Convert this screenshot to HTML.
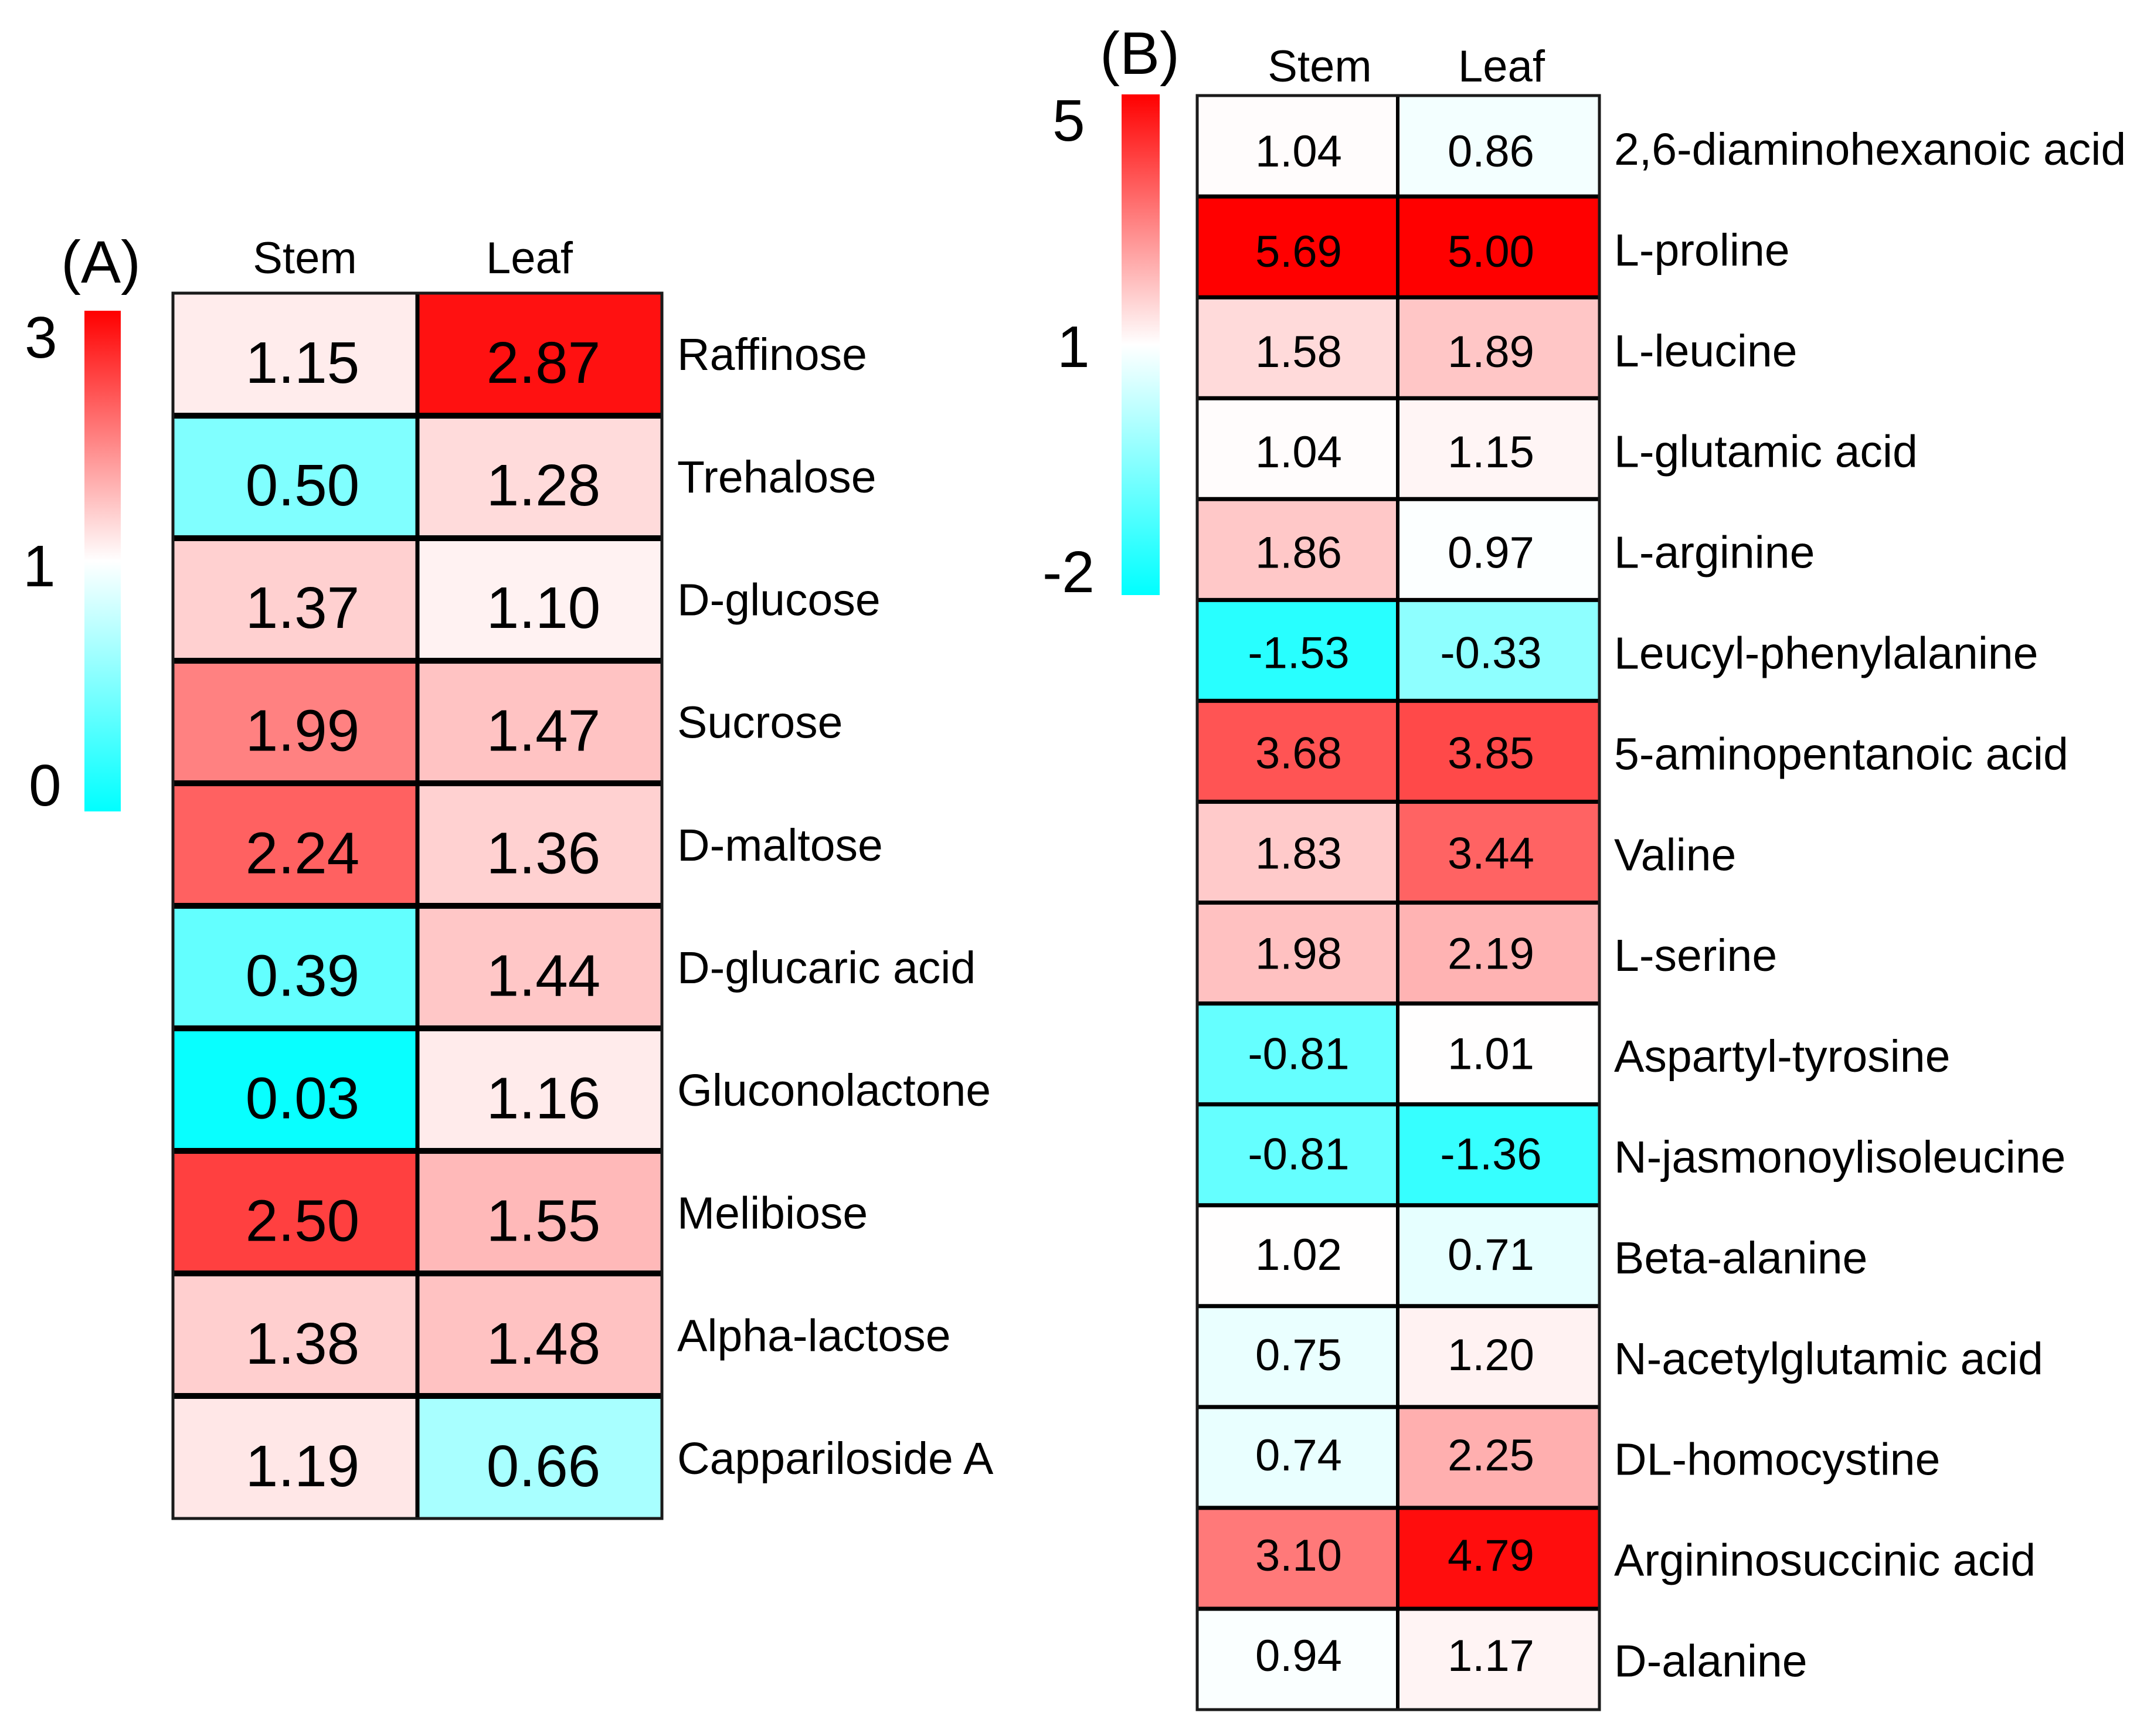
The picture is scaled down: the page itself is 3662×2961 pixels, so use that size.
<!DOCTYPE html>
<html lang="en">
<head>
<meta charset="utf-8">
<title>Metabolite fold-change heatmaps</title>
<style>
html,body{margin:0;padding:0;background:#fff;}
svg{display:block;}
text{font-family:"Liberation Sans",Arial,sans-serif;fill:#000;}
</style>
</head>
<body>
<svg id="chart" xmlns="http://www.w3.org/2000/svg" width="3662" height="2961" viewBox="0 0 3662 2961">
  <defs>
    <linearGradient id="cbar" x1="0" y1="0" x2="0" y2="1">
      <stop offset="0" stop-color="#ff0000"/>
      <stop offset="0.5" stop-color="#ffffff"/>
      <stop offset="1" stop-color="#00ffff"/>
    </linearGradient>
  </defs>
  <rect width="3662" height="2961" fill="#fff"/>

  <g id="panelA">
    <text x="104" y="482" font-size="102">(A)</text>
    <rect x="144" y="530" width="62" height="854" fill="url(#cbar)"/>
    <text x="42" y="610" font-size="100">3</text>
    <text x="39" y="1000" font-size="100">1</text>
    <text x="49" y="1374" font-size="100">0</text>
    <text x="520" y="466" font-size="76" text-anchor="middle">Stem</text>
    <text x="903" y="466" font-size="76" text-anchor="middle">Leaf</text>
  </g>

  <g id="panelB">
    <text x="1876" y="126" font-size="102">(B)</text>
    <rect x="1913" y="161" width="65" height="854" fill="url(#cbar)"/>
    <text x="1795" y="240" font-size="100">5</text>
    <text x="1803" y="626" font-size="100">1</text>
    <text x="1778" y="1010" font-size="100">-2</text>
    <text x="2251" y="139" font-size="76" text-anchor="middle">Stem</text>
    <text x="2561" y="139" font-size="76" text-anchor="middle">Leaf</text>
  </g>
</svg>

<script>
const panelANames = ["Raffinose","Trehalose","D-glucose","Sucrose","D-maltose","D-glucaric acid","Gluconolactone","Melibiose","Alpha-lactose","Cappariloside A"];
const panelAStem = [1.15,0.50,1.37,1.99,2.24,0.39,0.03,2.50,1.38,1.19];
const panelALeaf = [2.87,1.28,1.10,1.47,1.36,1.44,1.16,1.55,1.48,0.66];

const panelBNames = ["2,6-diaminohexanoic acid","L-proline","L-leucine","L-glutamic acid","L-arginine","Leucyl-phenylalanine","5-aminopentanoic acid","Valine","L-serine","Aspartyl-tyrosine","N-jasmonoylisoleucine","Beta-alanine","N-acetylglutamic acid","DL-homocystine","Argininosuccinic acid","D-alanine"];
const panelBStem = [1.04,5.69,1.58,1.04,1.86,-1.53,3.68,1.83,1.98,-0.81,-0.81,1.02,0.75,0.74,3.10,0.94];
const panelBLeaf = [0.86,5.00,1.89,1.15,0.97,-0.33,3.85,3.44,2.19,1.01,-1.36,0.71,1.20,2.25,4.79,1.17];

const NS = "http://www.w3.org/2000/svg";

function colorScale(v, min, mid, max) {
  if (v >= mid) {
    const t = Math.min(1, (v - mid) / (max - mid));
    const c = Math.round(255 * (1 - t));
    return "rgb(255," + c + "," + c + ")";
  }
  const t = Math.min(1, (mid - v) / (mid - min));
  const c = Math.round(255 * (1 - t));
  return "rgb(" + c + ",255,255)";
}

function drawPanel(cfg) {
  const parent = document.getElementById(cfg.groupId);
  const n = cfg.names.length;
  const rowY = i => cfg.top + i * (cfg.bottom - cfg.top) / n;
  const colX = [cfg.left, cfg.mid, cfg.right];
  const series = [cfg.stem, cfg.leaf];

  for (let i = 0; i < n; i++) {
    for (let c = 0; c < 2; c++) {
      const v = series[c][i];
      const r = document.createElementNS(NS, "rect");
      r.setAttribute("x", colX[c]);
      r.setAttribute("y", rowY(i));
      r.setAttribute("width", colX[c + 1] - colX[c]);
      r.setAttribute("height", rowY(i + 1) - rowY(i));
      r.setAttribute("fill", colorScale(v, cfg.min, cfg.midV, cfg.max));
      
      
      parent.appendChild(r);
    }
  }

  for (let i = 1; i < n; i++) {
    const l = document.createElementNS(NS, "line");
    l.setAttribute("x1", cfg.left);
    l.setAttribute("x2", cfg.right);
    l.setAttribute("y1", rowY(i));
    l.setAttribute("y2", rowY(i));
    l.setAttribute("stroke", "#000");
    l.setAttribute("stroke-width", cfg.hLine);
    
    
    parent.appendChild(l);
  }

  const vl = document.createElementNS(NS, "line");
  vl.setAttribute("x1", cfg.mid);
  vl.setAttribute("x2", cfg.mid);
  vl.setAttribute("y1", cfg.top);
  vl.setAttribute("y2", cfg.bottom);
  vl.setAttribute("stroke", "#000");
  vl.setAttribute("stroke-width", cfg.vLine);
  
  
  parent.appendChild(vl);

  const frame = document.createElementNS(NS, "rect");
  frame.setAttribute("x", cfg.left);
  frame.setAttribute("y", cfg.top);
  frame.setAttribute("width", cfg.right - cfg.left);
  frame.setAttribute("height", cfg.bottom - cfg.top);
  frame.setAttribute("fill", "none");
  frame.setAttribute("stroke", "#1a1a1a");
  frame.setAttribute("stroke-width", 5);
  
  
  parent.appendChild(frame);

  for (let i = 0; i < n; i++) {
    for (let c = 0; c < 2; c++) {
      const t = document.createElementNS(NS, "text");
      t.setAttribute("x", cfg.valueX[c]);
      t.setAttribute("y", cfg.valueY0 + i * cfg.valueStep);
      t.setAttribute("font-size", cfg.valueSize);
      t.setAttribute("text-anchor", "middle");
      t.textContent = series[c][i].toFixed(2);
      
      
      parent.appendChild(t);
    }
    const lab = document.createElementNS(NS, "text");
    lab.setAttribute("x", cfg.labelX);
    lab.setAttribute("y", cfg.labelY0 + i * cfg.labelStep);
    lab.setAttribute("font-size", 77);
    lab.textContent = cfg.names[i];
    
    
    parent.appendChild(lab);
  }
}

drawPanel({
  groupId: "panelA", names: panelANames, stem: panelAStem, leaf: panelALeaf,
  min: 0, midV: 1, max: 3,
  left: 295, mid: 712, right: 1129, top: 500, bottom: 2590,
  hLine: 10, vLine: 7,
  valueX: [516, 927], valueY0: 653, valueStep: 209.1, valueSize: 100,
  labelX: 1155, labelY0: 631, labelStep: 209.2
});

drawPanel({
  groupId: "panelB", names: panelBNames, stem: panelBStem, leaf: panelBLeaf,
  min: -2, midV: 1, max: 5,
  left: 2042, mid: 2384, right: 2728, top: 163, bottom: 2916,
  hLine: 7, vLine: 6,
  valueX: [2215, 2543], valueY0: 284, valueStep: 171.07, valueSize: 76,
  labelX: 2753, labelY0: 281, labelStep: 171.9
});
</script>
</body>
</html>
